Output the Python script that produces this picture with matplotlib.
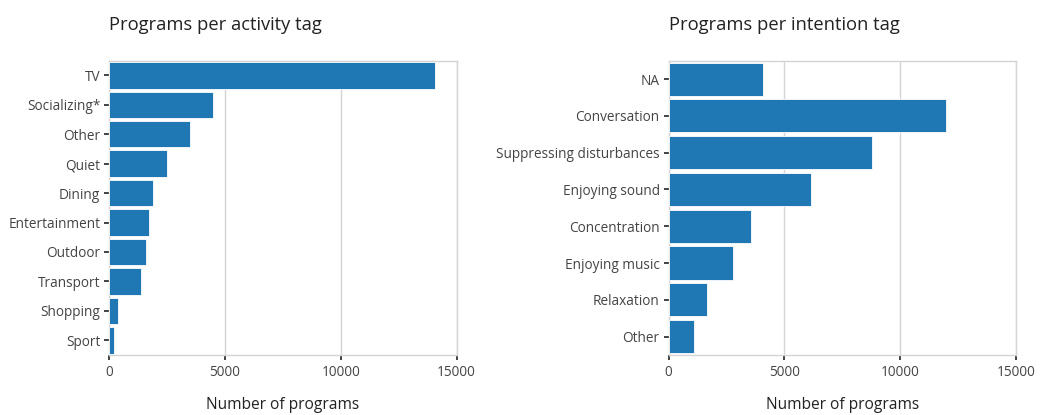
import matplotlib
matplotlib.use("Agg")
import matplotlib.pyplot as plt

# values
activity_tags = ["TV", "Socializing*", "Other", "Quiet", "Dining", "Entertainment",
                 "Outdoor", "Transport", "Shopping", "Sport"]
activity_counts = [14080, 4460, 3470, 2500, 1870, 1710, 1570, 1370, 360, 200]

intention_tags = ["NA", "Conversation", "Suppressing disturbances", "Enjoying sound",
                  "Concentration", "Enjoying music", "Relaxation", "Other"]
intention_counts = [4075, 11965, 8780, 6150, 3570, 2765, 1655, 1095]

x_ticks = [0, 5000, 10000, 15000]

plt.rcParams['font.family'] = ['Open Sans', 'DejaVu Sans']

fig = plt.figure(figsize=(10.4, 4.15), dpi=100)
ax1 = fig.add_axes([0.1051, 0.1446, 0.3340, 0.7092])
ax2 = fig.add_axes([0.6430, 0.1446, 0.3339, 0.7092])


def draw(ax, labels, counts, title):
    ax.barh(range(len(labels)), counts, height=0.9, color='#1f77b4',
            edgecolor='white', linewidth=0.6, zorder=3)
    ax.set_yticks(range(len(labels)))
    ax.set_yticklabels(labels)
    ax.set_ylim(len(labels) - 0.5, -0.5)
    ax.set_xlim(0, 15000)
    ax.set_xticks(x_ticks)
    ax.set_xticklabels([str(t) for t in x_ticks])
    ax.grid(axis='x', color='#d4d4d4', linewidth=1, zorder=0)
    for s in ax.spines.values():
        s.set_color('#d4d4d4')
        s.set_linewidth(1)
    ax.tick_params(axis='both', length=3.5, width=1.3, color='#333333',
                   labelcolor='#444444', labelsize=9.8)
    ax.tick_params(axis='x', pad=4)
    ax.tick_params(axis='y', pad=3)
    ax.set_xlabel('Number of programs', fontsize=11.2, color='#222222', labelpad=12)
    ax.set_title(title, loc='left', fontsize=13.2, color='#222222', pad=22)


draw(ax1, activity_tags, activity_counts, 'Programs per activity tag')
draw(ax2, intention_tags, intention_counts, 'Programs per intention tag')

fig.savefig('out.png', dpi=100)
